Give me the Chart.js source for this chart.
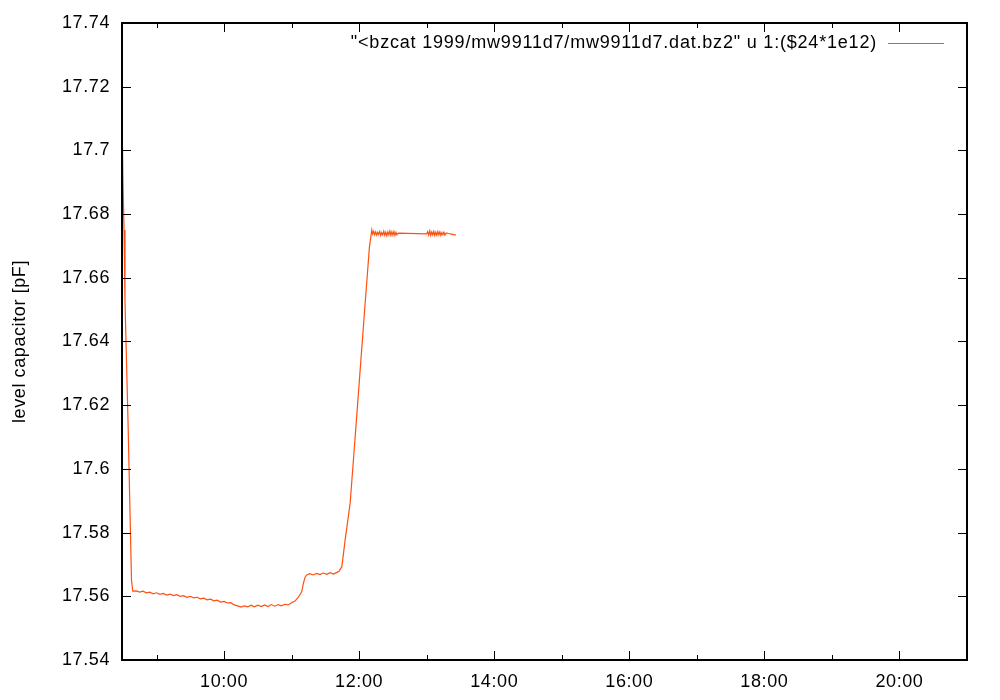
<!DOCTYPE html>
<html lang="en">
<head>
    <meta charset="UTF-8">
    <title>level capacitor</title>
    <script src="https://cdn.jsdelivr.net/npm/chart.js"></script>
    <style>
        body { margin: 0; background: #fff; }
        #box { width: 1000px; height: 700px; }
    </style>
</head>
<body>
<div id="box"><canvas id="grafico" width="1000" height="700"></canvas></div>
<script>
    // time of day in hours
    const horas = [
        8.489, 8.504, 8.519, 8.533, 8.578, 8.630, 8.648,
        8.70, 8.75, 8.80, 8.85, 8.90, 8.95, 9.00, 9.05, 9.10, 9.15, 9.20, 9.25, 9.30, 9.35,
        9.40, 9.45, 9.50, 9.55, 9.60, 9.65, 9.70, 9.75, 9.80, 9.85, 9.90, 9.95, 10.00, 10.05,
        10.10, 10.15, 10.20, 10.25, 10.30, 10.35, 10.40, 10.45, 10.50, 10.55, 10.60, 10.65,
        10.70, 10.75, 10.80, 10.85, 10.90, 10.95, 11.00, 11.05, 11.10, 11.15, 11.175, 11.20, 11.225,
        11.27, 11.32, 11.37, 11.42, 11.47, 11.52, 11.57, 11.62, 11.67, 11.70,
        11.744, 11.793, 11.867, 11.941, 12.015, 12.089, 12.153, 12.188,
        12.20, 12.215, 12.23, 12.245, 12.26, 12.275, 12.29, 12.305, 12.32, 12.335, 12.35,
        12.365, 12.38, 12.395, 12.41, 12.425, 12.44, 12.455, 12.47, 12.485, 12.50, 12.515,
        12.53, 12.545, 12.56, 12.58,
        13.00, 13.015, 13.03, 13.045, 13.06, 13.075, 13.09, 13.105, 13.12, 13.135, 13.15,
        13.165, 13.18, 13.195, 13.21, 13.225, 13.24, 13.255, 13.27, 13.29, 13.323, 13.37, 13.432
    ];

    // capacitance in pF
    const capacidade = [
        17.7110, 17.690, 17.675, 17.653, 17.615, 17.565, 17.5616,
        17.5617, 17.5613, 17.5616, 17.5611, 17.5613, 17.5608, 17.5611, 17.5606, 17.5609, 17.5604, 17.5607, 17.5602, 17.5605, 17.5600,
        17.5602, 17.5597, 17.5600, 17.5595, 17.5597, 17.5592, 17.5594, 17.5589, 17.5591, 17.5586, 17.5588, 17.5582, 17.5584, 17.5579,
        17.5580, 17.5573, 17.5570, 17.5566, 17.5570, 17.5567, 17.5572, 17.5567, 17.5572, 17.5568, 17.5573, 17.5568,
        17.5574, 17.5569, 17.5574, 17.5570, 17.5575, 17.5573, 17.5580, 17.5585, 17.5597, 17.5614, 17.5641, 17.5660, 17.5667,
        17.5671, 17.5667, 17.5672, 17.5668, 17.5673, 17.5669, 17.5674, 17.5670, 17.5675, 17.5678,
        17.5693, 17.5777, 17.5893, 17.6100, 17.6310, 17.6520, 17.6698, 17.6750,
        17.6738, 17.6746, 17.6735, 17.6744, 17.6734, 17.6743, 17.6736, 17.6745, 17.6733, 17.6742, 17.6735,
        17.6746, 17.6734, 17.6743, 17.6732, 17.6744, 17.6735, 17.6747, 17.6733, 17.6744, 17.6734, 17.6745,
        17.6733, 17.6743, 17.6735, 17.6740,
        17.6738, 17.6745, 17.6734, 17.6747, 17.6733, 17.6744, 17.6735, 17.6746, 17.6733, 17.6743, 17.6734,
        17.6745, 17.6735, 17.6744, 17.6733, 17.6742, 17.6735, 17.6743, 17.6734, 17.6741, 17.6739, 17.6737, 17.6734
    ];

    const ticksX = [9, 10, 11, 12, 13, 14, 15, 16, 17, 18, 19, 20];
    const ticksY = [17.54, 17.56, 17.58, 17.60, 17.62, 17.64, 17.66, 17.68, 17.70, 17.72, 17.74];

    const legenda = '"<bzcat 1999/mw9911d7/mw9911d7.dat.bz2" u 1:($24*1e12)';
    const tituloY = 'level capacitor [pF]';
    const cor = '#ff5010';
    const fonte = '"Liberation Sans", Arial, sans-serif';

    // gnuplot's text is a little wider than Liberation Sans
    const espaco = {
        id: 'espaco',
        beforeDraw(chart) { chart.ctx.letterSpacing = '0.6px'; }
    };

    // frame, inward ticks and the key, gnuplot style
    const moldura = {
        id: 'moldura',
        afterDatasetsDraw(chart) {
            const ctx = chart.ctx;
            const a = chart.chartArea;
            const sx = chart.scales.x;
            const sy = chart.scales.y;
            ctx.save();
            ctx.strokeStyle = '#000';
            ctx.lineWidth = 1;
            ctx.beginPath();
            ticksX.forEach(v => {
                const px = Math.round(sx.getPixelForValue(v)) + 0.5;
                const len = v % 2 === 0 ? 9 : 5;
                ctx.moveTo(px, a.bottom); ctx.lineTo(px, a.bottom - len);
                ctx.moveTo(px, a.top); ctx.lineTo(px, a.top + len);
            });
            ticksY.forEach(v => {
                const py = Math.round(sy.getPixelForValue(v)) + 0.5;
                ctx.moveTo(a.left, py); ctx.lineTo(a.left + 9, py);
                ctx.moveTo(a.right, py); ctx.lineTo(a.right - 9, py);
            });
            ctx.stroke();
            ctx.lineWidth = 2;
            ctx.strokeRect(a.left, a.top, a.right - a.left, a.bottom - a.top);

            ctx.font = '18px ' + fonte;
            ctx.letterSpacing = '0.8px';
            ctx.fillStyle = '#000';
            ctx.textAlign = 'right';
            ctx.textBaseline = 'middle';
            ctx.fillText(legenda, 877, 43);
            ctx.strokeStyle = cor;
            ctx.lineWidth = 1;
            ctx.beginPath();
            ctx.moveTo(888, 43.5); ctx.lineTo(944, 43.5);
            ctx.stroke();
            ctx.restore();
        }
    };

    const dados = {
        datasets: [{
            label: legenda,
            data: horas.map((h, i) => ({ x: h, y: capacidade[i] })),
            borderColor: cor,
            borderWidth: 1.2,
            pointRadius: 0,
            tension: 0,
            fill: false
        }]
    };

    const config = {
        type: 'line',
        data: dados,
        options: {
            responsive: false,
            animation: false,
            layout: { padding: { left: 0, right: 33, top: 23, bottom: 0 } },
            plugins: { legend: { display: false }, tooltip: { enabled: false } },
            scales: {
                x: {
                    type: 'linear',
                    min: horas[0],
                    max: 21,
                    grid: { display: false, drawTicks: false },
                    border: { display: false },
                    afterBuildTicks: s => { s.ticks = ticksX.map(v => ({ value: v })); },
                    afterFit: s => { s.height = 40; },
                    ticks: {
                        autoSkip: false,
                        maxRotation: 0,
                        padding: 11,
                        color: '#000',
                        font: { family: fonte, size: 18 },
                        callback: v => v % 2 === 0 ? v + ':00' : ''
                    }
                },
                y: {
                    min: 17.54,
                    max: 17.74,
                    grid: { display: false, drawTicks: false },
                    border: { display: false },
                    afterBuildTicks: s => { s.ticks = ticksY.map(v => ({ value: v })); },
                    afterFit: s => { s.width = 122; },
                    title: {
                        display: true,
                        text: tituloY,
                        color: '#000',
                        font: { family: fonte, size: 18 },
                        padding: { top: 9, bottom: 0 }
                    },
                    ticks: {
                        padding: 12,
                        color: '#000',
                        font: { family: fonte, size: 18 },
                        callback: v => String(Number(v.toFixed(2)))
                    }
                }
            }
        },
        plugins: [espaco, moldura]
    };

    new Chart(document.getElementById('grafico'), config);
</script>
</body>
</html>
